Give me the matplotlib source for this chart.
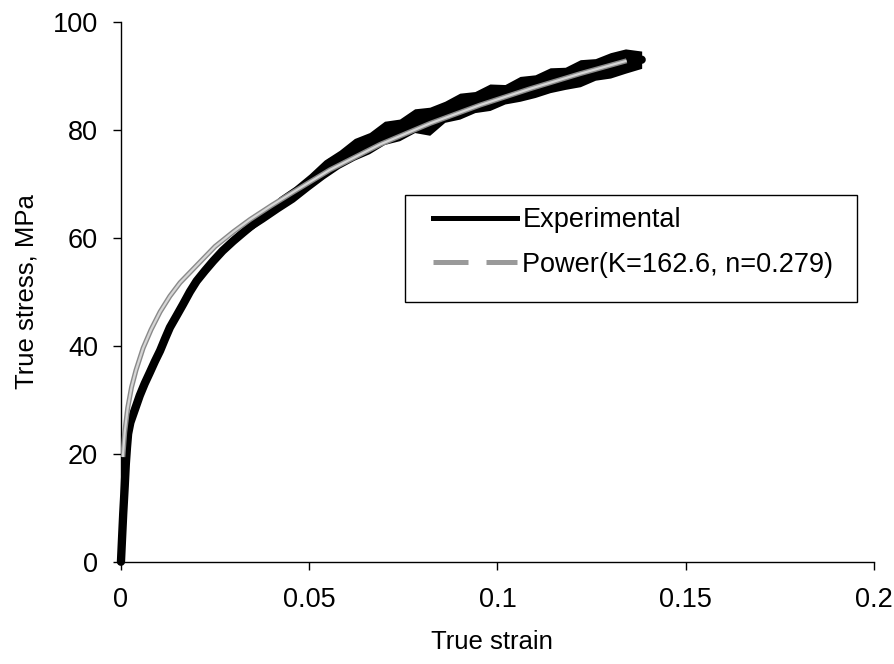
import matplotlib
matplotlib.use("Agg")
import matplotlib.pyplot as plt
import matplotlib.patheffects as pe
from matplotlib.lines import Line2D
from matplotlib.patches import Rectangle

# values
exp_strain = [0.0, 0.0003, 0.0006, 0.001, 0.0013, 0.0016, 0.0019, 0.0025, 0.0033,
              0.004, 0.005, 0.0063, 0.0077, 0.009, 0.0104, 0.0117, 0.013, 0.0148,
              0.0165, 0.0183, 0.0201, 0.0223, 0.0245, 0.027, 0.0298, 0.0325,
              0.0351, 0.0378, 0.0405, 0.0458, 0.05, 0.0555, 0.062, 0.0688, 0.075,
              0.0821, 0.088, 0.0954, 0.102, 0.1086, 0.115, 0.1219, 0.128, 0.1343,
              0.1383]
exp_stress = [0.0, 4.5, 8.9, 14.0, 18.2, 21.2, 23.7, 25.8, 27.4,
              28.8, 30.8, 33.0, 35.1, 37.1, 39.1, 41.3, 43.4, 45.6,
              47.7, 50.0, 52.0, 53.9, 55.7, 57.6, 59.4, 61.0,
              62.5, 64.0, 65.4, 68.2, 70.3, 73.9, 76.3, 78.8, 80.6,
              82.3, 84.0, 85.3, 86.8, 88.0, 89.4, 90.5, 91.8, 92.7,
              93.0]

# scatter band of the experimental curve (upper part)
band_strain = [0.030, 0.034, 0.038, 0.042, 0.046, 0.050, 0.054, 0.058, 0.062,
               0.066, 0.070, 0.074, 0.078, 0.082, 0.086, 0.090, 0.094, 0.098,
               0.102, 0.106, 0.110, 0.114, 0.118, 0.122, 0.126, 0.130, 0.134,
               0.1383]
band_upper = [59.6, 62.9, 65.0, 67.6, 69.5, 71.8, 74.4, 76.2, 78.4,
              79.5, 81.6, 82.0, 83.9, 84.2, 85.3, 86.8, 87.1, 88.5,
              88.4, 89.9, 90.2, 91.5, 91.6, 93.0, 93.2, 94.3, 95.0,
              94.6]
band_lower = [59.4, 61.2, 63.0, 64.9, 66.7, 68.9, 71.0, 72.9, 74.4,
              75.6, 77.3, 78.0, 79.5, 79.0, 81.4, 82.0, 83.2, 83.6,
              84.8, 85.3, 86.0, 86.9, 87.5, 88.0, 89.2, 89.6, 90.5,
              91.4]

power_strain = [0.0005, 0.001, 0.0018, 0.0028, 0.004, 0.0059, 0.008, 0.0104,
                0.013, 0.0157, 0.02, 0.025, 0.03, 0.0343, 0.04, 0.0458, 0.0555,
                0.0688, 0.0821, 0.0954, 0.1086, 0.1219, 0.1343]
power_stress = [19.4, 24.0, 28.5, 32.3, 35.5, 39.6, 43.0, 46.3,
                49.2, 51.7, 54.8, 58.4, 61.2, 63.4, 66.0, 68.5, 72.6,
                77.3, 81.2, 84.6, 87.6, 90.4, 92.8]

x_ticks = [0, 0.05, 0.1, 0.15, 0.2]
x_labels = ["0", "0.05", "0.1", "0.15", "0.2"]
y_ticks = [0, 20, 40, 60, 80, 100]

plt.rcParams['font.family'] = ['Liberation Sans', 'DejaVu Sans']

fig = plt.figure(figsize=(8.94, 6.64), dpi=100)
ax = fig.add_axes([0.1353, 0.154, 0.8423, 0.813])

ax.fill_between(band_strain, band_lower, band_upper, color='black', lw=0, zorder=2)
ax.plot(exp_strain, exp_stress, color='black', lw=6, solid_capstyle='round',
        solid_joinstyle='round', zorder=3, clip_on=False)

gray_fx = [pe.Stroke(linewidth=3.6, foreground='#8a8a8a'), pe.Normal()]
ax.plot(power_strain, power_stress, color='#d6d6d6', lw=1.6, zorder=4,
        path_effects=gray_fx, solid_capstyle='butt')

ax.set_xlim(0, 0.2)
ax.set_ylim(0, 100)
ax.set_xticks(x_ticks)
ax.set_xticklabels(x_labels)
ax.set_yticks(y_ticks)
ax.tick_params(axis='both', direction='out', length=5.5, width=1, labelsize=19.5)
ax.tick_params(axis='x', pad=13)
ax.tick_params(axis='y', pad=11)
for side in ['top', 'right']:
    ax.spines[side].set_visible(False)
for side in ['left', 'bottom']:
    ax.spines[side].set_linewidth(1)

ax.set_xlabel('True strain', fontsize=18.5)
ax.xaxis.set_label_coords(0.492, -0.126)
ax.set_ylabel('True stress, MPa', fontsize=18.5)
ax.yaxis.set_label_coords(-0.109, 0.5)

# legend: frame drawn by hand so the padding matches
fig.patches.append(Rectangle((405 / 894, 1 - 302 / 664), 452 / 894, 107 / 664,
                             transform=fig.transFigure, fill=False,
                             edgecolor='black', lw=1))
handles = [Line2D([], [], color='black', lw=3.6),
           Line2D([], [], color='#9a9a9a', lw=3.6, linestyle=(0, (7, 3.6)))]
ax.legend(handles, ['Experimental', 'Power(K=162.6, n=0.279)'],
          loc='upper left', bbox_to_anchor=(433 / 894, 1 - 207 / 664),
          bbox_transform=fig.transFigure, frameon=False, fontsize=19.5,
          handlelength=3.1, handletextpad=0.2, borderpad=0, borderaxespad=0,
          labelspacing=0.69)

fig.savefig('out.png', dpi=100)
